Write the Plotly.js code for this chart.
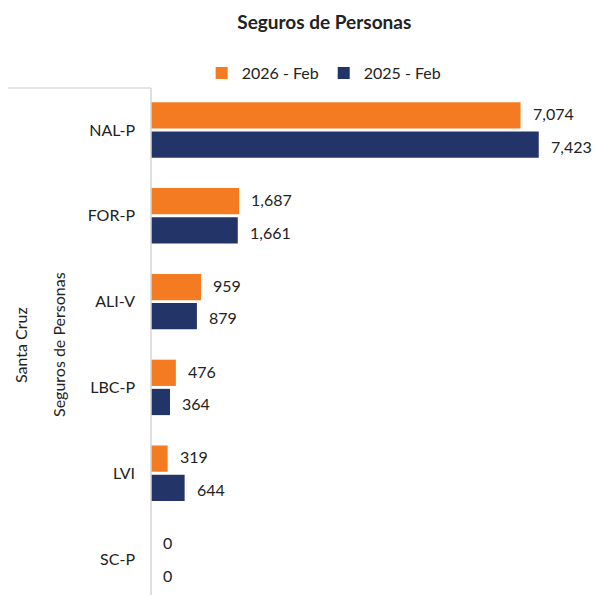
<!DOCTYPE html>
<html><head><meta charset="utf-8">
<script src="https://cdn.plot.ly/plotly-3.0.1.min.js"></script>
<style>html,body{margin:0;padding:0;background:#fff}</style>
</head><body><div id="chart" style="width:595px;height:595px"></div>
<script>
const categories = ["NAL-P", "FOR-P", "ALI-V", "LBC-P", "LVI", "SC-P"];
const series2026 = [7074, 1687, 959, 476, 319, 0];
const series2025 = [7423, 1661, 879, 364, 644, 0];
const seriesNames = ["2026 - Feb", "2025 - Feb"];
const groupLabel = "Seguros de Personas";
const regionLabel = "Santa Cruz";

const idx = categories.map((c, i) => i);
const colors = ["#F47B21", "#233468"];
const font = "Lato, 'Open Sans', sans-serif";

const traces = [series2026, series2025].map((vals, k) => ({
  type: "bar", orientation: "h", x: vals, y: idx, name: seriesNames[k],
  marker: {color: colors[k]}, hoverinfo: "skip"
}));

const annotations = [];
[series2026, series2025].forEach((vals, k) => {
  vals.forEach((v, i) => {
    annotations.push({
      x: v, y: i + (k === 0 ? -0.19 : 0.19), xref: "x", yref: "y",
      text: v.toLocaleString("en-US"), showarrow: false,
      xanchor: "left", xshift: 10, font: {size: 16, color: "#222", family: font}
    });
  });
});
annotations.push({
  x: -92 / 444, y: (595 - 345) / 507, xref: "paper", yref: "paper", xanchor: "center",
  text: groupLabel, textangle: -90, showarrow: false,
  font: {size: 16, color: "#222", family: font}
});
annotations.push({
  x: -130 / 444, y: (595 - 345) / 507, xref: "paper", yref: "paper", xanchor: "center",
  text: regionLabel, textangle: -90, showarrow: false,
  font: {size: 16, color: "#222", family: font}
});

const layout = {
  width: 595, height: 595,
  margin: {l: 151, r: 0, t: 88, b: 0},
  paper_bgcolor: "#fff", plot_bgcolor: "#fff",
  title: {text: "<b>Seguros de Personas</b>", x: 0.545, xanchor: "center", y: 0.963, yanchor: "middle",
          font: {size: 19, color: "#222", family: font}},
  showlegend: true,
  legend: {orientation: "h", x: 0.39, xanchor: "center", y: 1.0 + 15 / 507, yanchor: "middle",
           font: {size: 16, color: "#222", family: font}, itemwidth: 30, traceorder: "normal"},
  barmode: "group", bargap: 0.32, bargroupgap: 0.1,
  xaxis: {range: [0, 8500], visible: false, showgrid: false, zeroline: false, fixedrange: true},
  yaxis: {range: [5.42, -0.49], tickmode: "array", tickvals: idx, ticktext: categories,
          showgrid: false, zeroline: false, showline: false, ticks: "", ticklen: 0,
          tickfont: {size: 16, color: "#222", family: font}, ticklabelstandoff: 15},
  shapes: [
    {type: "line", xref: "paper", yref: "paper", x0: 0, x1: 0, y0: 0, y1: 1,
     line: {color: "#d4d4d8", width: 1.5}},
    {type: "line", xref: "paper", yref: "paper", x0: -143 / 444, x1: 0, y0: 1, y1: 1,
     line: {color: "#dcdce0", width: 1.5}}
  ],
  annotations: annotations
};
Plotly.newPlot("chart", traces, layout, {displayModeBar: false, staticPlot: true});
</script></body></html>
